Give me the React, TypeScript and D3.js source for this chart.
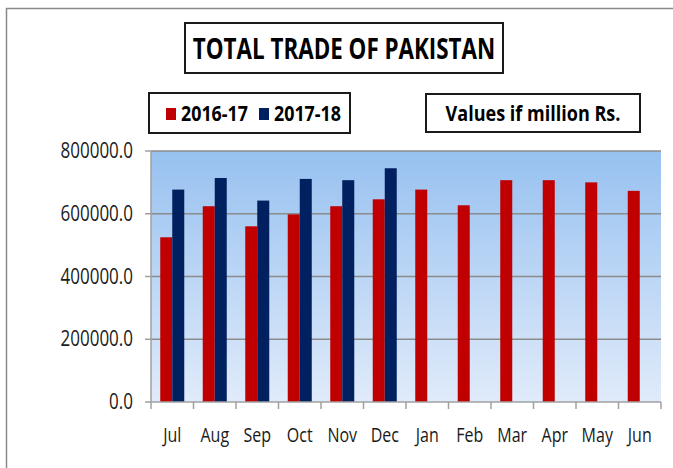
import React from "react";
import * as d3 from "d3";

const months = ["Jul", "Aug", "Sep", "Oct", "Nov", "Dec", "Jan", "Feb", "Mar", "Apr", "May", "Jun"];
const series = ["2016-17", "2017-18"];
const values2016_17 = [525000, 624000, 560000, 598000, 624000, 646000, 677000, 627000, 707000, 707000, 700000, 673000];
const values2017_18: (number | null)[] = [677000, 714000, 642000, 711000, 707000, 745000, null, null, null, null, null, null];
const yTicks = [0, 200000, 400000, 600000, 800000];
const colors = ["#c00000", "#002060"];
const title = "TOTAL TRADE OF PAKISTAN";
const unitNote = "Values if million Rs.";

const FONT = "'Open Sans', 'Noto Sans', sans-serif";

type CTProps = {
  x: number; y: number; sx: number; size: number; bold?: boolean;
  anchor?: "start" | "middle" | "end"; fill?: string; children: React.ReactNode;
};
function CText({ x, y, sx, size, bold, anchor = "start", fill = "#000", children }: CTProps) {
  return (
    <text
      transform={`translate(${x},${y}) scale(${sx},1)`}
      textAnchor={anchor}
      fontFamily={FONT}
      fontWeight={bold ? "bold" : "normal"}
      fontSize={size}
      fill={fill}
    >
      {children}
    </text>
  );
}

export default function App() {
  const W = 673, H = 468;
  const plot = { left: 151, right: 661, top: 151, bottom: 402 };
  const x = d3.scaleBand<string>().domain(months).range([plot.left, plot.right]).paddingInner(0).paddingOuter(0);
  const xs = d3.scaleBand<string>().domain(series).range([0, x.bandwidth()]).paddingInner(0).paddingOuter(0.77);
  const y = d3.scaleLinear().domain([0, 800000]).range([plot.bottom, plot.top]);
  const data = [values2016_17, values2017_18];

  return (
    <svg width={W} height={H} style={{ position: "absolute", left: 0, top: 0, display: "block" }}>
      <defs>
        <linearGradient id="bg" x1="0" y1="0" x2="0" y2="1">
          <stop offset="0%" stopColor="#97c1f0" />
          <stop offset="100%" stopColor="#e0ebfa" />
        </linearGradient>
      </defs>
      <rect x={0} y={0} width={W} height={H} fill="#fff" />
      {/* outer frame */}
      <line x1={6} y1={8.5} x2={W} y2={8.5} stroke="#8a8a8a" strokeWidth={1.5} />
      <line x1={6.5} y1={8} x2={6.5} y2={H} stroke="#8a8a8a" strokeWidth={1.5} />

      {/* title box */}
      <rect x={185} y={23} width={318} height={50} fill="#fff" stroke="#1a1a1a" strokeWidth={2} />
      <CText x={344} y={59} sx={0.8} size={28} bold anchor="middle">{title}</CText>

      {/* legend box */}
      <rect x={149} y={93} width={201} height={40} fill="#fff" stroke="#1a1a1a" strokeWidth={2} />
      {series.map((s, i) => {
        const lx = i === 0 ? 166 : 259;
        return (
          <g key={s}>
            <rect x={lx} y={108} width={10} height={12} fill={colors[i]} />
            <CText x={lx + 15} y={121} sx={0.85} size={21} bold>{s}</CText>
          </g>
        );
      })}

      {/* units box */}
      <rect x={426} y={94} width={214} height={38} fill="#fff" stroke="#1a1a1a" strokeWidth={2} />
      <CText x={533} y={121} sx={0.82} size={22} bold anchor="middle">{unitNote}</CText>

      {/* plot background */}
      <rect x={plot.left} y={plot.top} width={plot.right - plot.left} height={plot.bottom - plot.top} fill="url(#bg)" />

      {/* gridlines */}
      {yTicks.filter(t => t > 0).map(t => (
        <line key={t} x1={plot.left} x2={plot.right} y1={y(t)} y2={y(t)} stroke="#8c8c8c" strokeWidth={1.5} />
      ))}

      {/* bars */}
      {data.map((vals, si) =>
        vals.map((v, mi) =>
          v == null ? null : (
            <rect
              key={`${si}-${mi}`}
              x={(x(months[mi]) as number) + (xs(series[si]) as number)}
              y={y(v)}
              width={xs.bandwidth()}
              height={plot.bottom - y(v)}
              fill={colors[si]}
            />
          )
        )
      )}

      {/* y axis */}
      <line x1={plot.left} x2={plot.left} y1={plot.top} y2={plot.bottom} stroke="#a0a0a0" strokeWidth={1.5} />
      {yTicks.map(t => (
        <g key={t}>
          <line x1={plot.left - 6} x2={plot.left} y1={y(t)} y2={y(t)} stroke="#a0a0a0" strokeWidth={1.5} />
          <CText x={133} y={y(t) + 7} sx={0.81} size={21} anchor="end" fill="#1a1a1a">{d3.format(".1f")(t)}</CText>
        </g>
      ))}

      {/* x axis */}
      <line x1={plot.left} x2={plot.right} y1={plot.bottom} y2={plot.bottom} stroke="#a0a0a0" strokeWidth={1.5} />
      {[...months.map(m => x(m) as number), plot.right].map((px, i) => (
        <line key={i} x1={px} x2={px} y1={plot.bottom} y2={plot.bottom + 7} stroke="#a0a0a0" strokeWidth={1.5} />
      ))}
      {months.map(m => (
        <CText key={m} x={(x(m) as number) + x.bandwidth() / 2} y={442} sx={0.8} size={20} anchor="middle" fill="#1a1a1a">{m}</CText>
      ))}
    </svg>
  );
}
